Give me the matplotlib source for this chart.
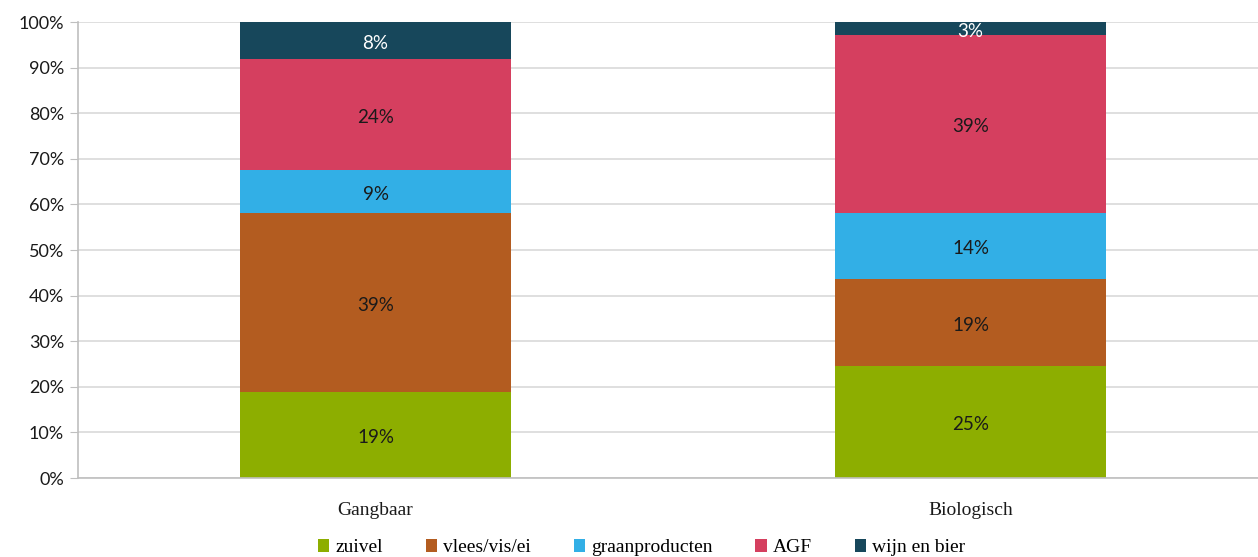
import matplotlib
matplotlib.use('Agg')
import matplotlib.pyplot as plt
from matplotlib.ticker import PercentFormatter

categories = ['Gangbaar', 'Biologisch']
series = ['zuivel', 'vlees/vis/ei', 'graanproducten', 'AGF', 'wijn en bier']
zuivel = [18.8, 24.6]
vlees = [39.3, 19.1]
graan = [9.4, 14.4]
agf = [24.4, 39.0]
wijn = [8.1, 2.9]
colors = ['#8DAE00', '#B35C20', '#32AFE6', '#D53F5F', '#17475B']
label_colors = ['#1a1a1a', '#1a1a1a', '#1a1a1a', '#1a1a1a', 'white']

fig = plt.figure(figsize=(12.58, 5.57), dpi=100)
ax = fig.add_axes([0.062, 0.1418, 0.946, 0.8187])

x = range(len(categories))
bottom = [0, 0]
for name, vals, col, lc in zip(series, [zuivel, vlees, graan, agf, wijn], colors, label_colors):
    bars = ax.bar(x, vals, bottom=bottom, width=0.454, color=col, label=name, zorder=2)
    for b, v, bt in zip(bars, vals, bottom):
        ax.text(b.get_x() + b.get_width() / 2, bt + v / 2 - 0.6, f'{round(v)}%',
                ha='center', va='center', color=lc, fontsize=13.5, family='Lato', zorder=3)
    bottom = [b + v for b, v in zip(bottom, vals)]

ax.set_xlim(-0.5, 1.5)
ax.set_ylim(0, 100)
ax.set_yticks(range(0, 101, 10))
ax.yaxis.set_major_formatter(PercentFormatter(decimals=0))
ax.grid(axis='y', color='#D9D9D9', linewidth=1.2, zorder=0)
for s in ['top', 'right']:
    ax.spines[s].set_visible(False)
ax.spines['left'].set_color('#BFBFBF')
ax.spines['bottom'].set_color('#BFBFBF')
ax.spines['left'].set_linewidth(1.2)
ax.spines['bottom'].set_linewidth(1.2)
ax.tick_params(axis='y', length=6, color='#BFBFBF', labelsize=13, labelcolor='#1a1a1a', pad=4)
ax.tick_params(axis='x', length=0, pad=17)
ax.set_xticks(list(x))
ax.set_xticklabels(categories, fontsize=14, family='Liberation Serif', color='#1a1a1a')
for t in ax.get_yticklabels():
    t.set_family('Lato')

fig.legend(loc='lower center', bbox_to_anchor=(0.51, -0.03), ncol=5, frameon=False,
           prop={'family': 'Liberation Serif', 'size': 14}, handlelength=0.6, handleheight=0.6,
           handletextpad=0.3, columnspacing=2.2)

plt.savefig('out.png', dpi=100)
plt.close('all')
